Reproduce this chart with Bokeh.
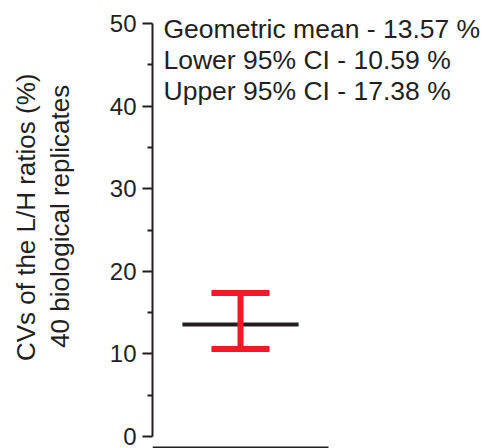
from bokeh.plotting import figure
from bokeh.models import Range1d, FixedTicker, Label
from bokeh.layouts import row
from bokeh.embed import file_html
from bokeh.resources import INLINE

# data
geo_mean = 13.57
ci_lower = 10.59
ci_upper = 17.38
y_ticks = [0, 10, 20, 30, 40, 50]
y_minor = [5, 15, 25, 35, 45]
stat_lines = [
    "Geometric mean - 13.57 %",
    "Lower 95% CI - 10.59 %",
    "Upper 95% CI - 17.38 %",
]
y_label_lines = ["CVs of the L/H ratios (%)", "40 biological replicates"]

FONT = "Liberation Sans"
INK = "#231F20"
RED = "#ED1C24"

# --- y-axis title panel (two centred lines of rotated text) ---
lab = figure(width=100, height=448, output_backend="svg", toolbar_location=None,
             x_range=Range1d(0, 100), y_range=Range1d(448, 0),
             x_axis_type=None, y_axis_type=None,
             min_border_left=0, min_border_right=0, min_border_top=0, min_border_bottom=0)
lab.outline_line_color = None
lab.grid.visible = False
lab.border_fill_color = "white"
for t, xx, yy in zip(y_label_lines, [25.5, 59.5], [211.0, 210.0]):
    lab.add_layout(Label(x=xx, y=yy, text=t, angle=90, angle_units="deg",
                         text_font=FONT, text_font_size="26px", text_color=INK,
                         text_align="center", text_baseline="middle"))

# --- main plot ---
p = figure(width=391, height=448, output_backend="svg", toolbar_location=None,
           x_range=Range1d(0, 1.926), y_range=Range1d(-1.45, 51.45),
           x_axis_type=None, min_border_left=52, min_border_right=0,
           min_border_top=11, min_border_bottom=0)
p.outline_line_color = None
p.grid.visible = False
p.background_fill_color = "white"
p.border_fill_color = "white"

ax = p.yaxis[0]
ax.ticker = FixedTicker(ticks=y_ticks, minor_ticks=y_minor)
ax.bounds = (0, 50)
ax.axis_line_width = 2
ax.axis_line_color = INK
ax.major_tick_line_color = INK
ax.minor_tick_line_color = INK
ax.major_tick_line_width = 2
ax.minor_tick_line_width = 2
ax.major_tick_out = 10
ax.major_tick_in = 0
ax.minor_tick_out = 5
ax.minor_tick_in = 0
ax.major_label_text_font = FONT
ax.major_label_text_font_size = "24px"
ax.major_label_text_color = INK
ax.major_label_standoff = 6

# bottom detached axis line (spans the single category slot 0..1)
p.segment(x0=[0], x1=[1], y0=[-1.33], y1=[-1.33], line_color=INK, line_width=2)

# mean line
p.segment(x0=[0.17], x1=[0.83], y0=[geo_mean], y1=[geo_mean], line_color=INK, line_width=4)
# CI error bar
p.segment(x0=[0.5], x1=[0.5], y0=[ci_lower], y1=[ci_upper], line_color=RED, line_width=6)
p.segment(x0=[0.335, 0.335], x1=[0.665, 0.665], y0=[ci_lower, ci_upper],
          y1=[ci_lower, ci_upper], line_color=RED, line_width=6)

ys = [49.35, 45.6, 41.85]
for t, yy in zip(stat_lines, ys):
    p.add_layout(Label(x=0.0625, y=yy, text=t, text_font=FONT, text_font_size="26.5px",
                       text_color=INK, text_baseline="alphabetic", text_align="left"))

layout = row(lab, p)
open("out.html", "w").write(file_html(layout, INLINE))
